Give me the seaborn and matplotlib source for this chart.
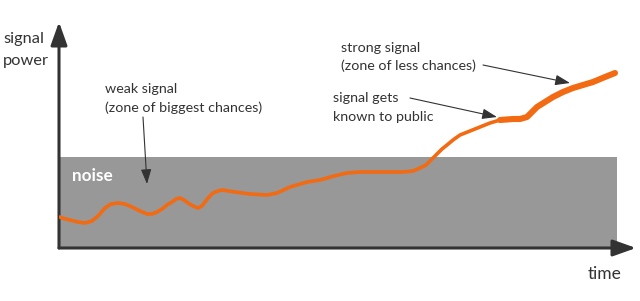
import matplotlib
matplotlib.use("Agg")
import matplotlib.pyplot as plt
from matplotlib.patches import FancyArrowPatch
import seaborn as sns

# signal curve (time, power), weak part then strong part
weak_time = [1, 3, 11, 19, 26, 33, 39, 46, 52, 59,
             66, 73, 81, 88, 93, 98, 103, 108, 113, 117,
             121, 125, 129, 134, 139, 143, 146, 150, 154, 159,
             163, 176, 191, 208, 218, 231, 248, 261, 275, 288,
             301, 321, 344, 354, 361, 367, 371, 375, 378, 383,
             388, 394, 401, 411, 421, 431, 441]
weak_power = [31, 30, 28, 26, 25, 27, 32, 40, 44, 45,
              44, 41, 37, 34, 34, 36, 39, 43, 46, 49,
              50, 48, 45, 42, 40, 42, 46, 51, 55, 57,
              58, 56, 54, 53, 55, 61, 66, 68, 72, 75,
              76, 76, 76, 77, 80, 83, 87, 91, 94, 99,
              103, 108, 113, 117, 121, 125, 128]
strong_time = [441, 454, 461, 468, 473, 478, 486, 494, 504, 514,
               524, 534, 546, 556]
strong_power = [128, 129, 129, 131, 136, 141, 146, 151, 156, 160,
                163, 166, 171, 175]

noise_level = 91
noise_end = 558
x_max, y_max = 577, 226

# annotation lines: (text, x, baseline)
label_lines = [
    ("weak signal", 46, 155),
    ("(zone of biggest chances)", 46, 136),
    ("strong signal", 282, 196),
    ("(zone of less chances)", 282, 178),
    ("signal gets", 274, 146),
    ("known to public", 274, 127),
]
axis_lines = [("signal", -56, 205), ("power", -56, 183)]
# (text start, arrow tip)
pointers = [((84, 131), (88, 64)),
            ((424, 183), (511, 165)),
            ((351, 150), (438, 131))]

sns.set_style("white")
plt.rcParams["font.family"] = ["Lato", "DejaVu Sans"]

ORANGE = "#F26A12"
DARK = "#333333"

fig = plt.figure(figsize=(6.4, 3.01), dpi=100)
ax = fig.add_axes([59 / 640, 53 / 301, x_max / 640, y_max / 301])
ax.set_xlim(0, x_max)
ax.set_ylim(0, y_max)
ax.axis("off")

# noise band
ax.fill_between([0, noise_end], 0, noise_level, color="#989898", lw=0)

sns.lineplot(x=weak_time, y=weak_power, ax=ax, color=ORANGE, lw=2.6,
             solid_joinstyle="round", solid_capstyle="round", sort=False)
sns.lineplot(x=strong_time, y=strong_power, ax=ax, color=ORANGE, lw=4.4,
             solid_joinstyle="round", solid_capstyle="round", sort=False)

# axes with arrow heads
for end in [(0, y_max), (x_max, 0)]:
    ax.add_patch(FancyArrowPatch((0, 0), end, arrowstyle="-|>,head_length=14,head_width=5",
                                 mutation_scale=1, color=DARK, lw=2.2,
                                 shrinkA=0, shrinkB=0, clip_on=False))

for text, tx, ty in axis_lines:
    ax.text(tx, ty, text, ha="left", va="baseline", fontsize=11.8,
            color=DARK, clip_on=False)
for text, tx, ty in label_lines:
    ax.text(tx, ty, text, ha="left", va="baseline", fontsize=10.3,
            color=DARK, clip_on=False)

ax.text(13, 67, "noise", ha="left", va="baseline", fontsize=12.3,
        fontweight="bold", color="white")
ax.text(529, -31, "time", ha="left", va="baseline", fontsize=12.5,
        color=DARK, clip_on=False)

for start, tip in pointers:
    ax.annotate("", xy=tip, xytext=start,
                arrowprops=dict(arrowstyle="-|>,head_length=0.9,head_width=0.32",
                                color=DARK, lw=0.8, shrinkA=0, shrinkB=0),
                annotation_clip=False)

fig.savefig("out.png", dpi=100)
